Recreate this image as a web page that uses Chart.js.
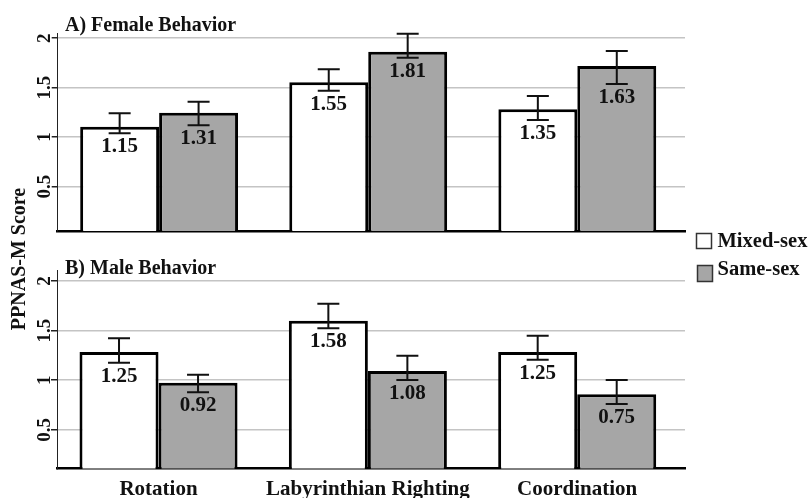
<!DOCTYPE html>
<html>
<head>
<meta charset="utf-8">
<script src="https://cdn.jsdelivr.net/npm/chart.js@4"></script>
<style>
  html,body{margin:0;padding:0;background:#fff;}
  #wrap{position:relative;width:811px;height:498px;}
  #wrap canvas{position:absolute;left:0;top:0;}
</style>
</head>
<body>
<div id="wrap">
  <canvas id="chartA" width="811" height="498" style="width:811px;height:498px"></canvas>
  <canvas id="chartB" width="811" height="498" style="width:811px;height:498px"></canvas>
</div>
<script>
// categorie e serie
const categories=['Rotation','Labyrinthian Righting','Coordination'];
const seriesNames=['Mixed-sex','Same-sex'];
const yTicks=[0.5,1,1.5,2];
const yTitle='PPNAS-M Score';

// A) Female Behavior  (bar heights as drawn, printed means, error range low/high)
const femaleMixed=[1.105,1.554,1.281];
const femaleSame=[1.247,1.864,1.719];
const femaleMixedLabels=['1.15','1.55','1.35'];
const femaleSameLabels=['1.31','1.81','1.63'];
const femaleMixedErr=[[1.038,1.241],[1.469,1.686],[1.173,1.416]];
const femaleSameErr=[[1.119,1.358],[1.803,2.046],[1.537,1.871]];

// B) Male Behavior
const maleMixed=[1.284,1.599,1.284];
const maleSame=[0.974,1.092,0.858];
const maleMixedLabels=['1.25','1.58','1.25'];
const maleSameLabels=['0.92','1.08','0.75'];
const maleMixedErr=[[1.176,1.422],[1.523,1.770],[1.206,1.448]];
const maleSameErr=[[0.878,1.055],[1.002,1.247],[0.760,1.002]];

const serif='"Liberation Serif","Times New Roman",serif';
const colMixed='#ffffff', colSame='#a6a6a6';

// error bars, value labels, rotated y tick labels, panel title
const extras={
  id:'extras',
  afterDatasetsDraw(chart,args,opts){
    const ctx=chart.ctx, y=chart.scales.y;
    ctx.save();
    chart.data.datasets.forEach((ds,i)=>{
      chart.getDatasetMeta(i).data.forEach((bar,j)=>{
        const yl=y.getPixelForValue(ds.err[j][0]);
        const yh=y.getPixelForValue(ds.err[j][1]);
        ctx.strokeStyle='#111';ctx.lineWidth=2;
        ctx.beginPath();
        ctx.moveTo(bar.x,yl);ctx.lineTo(bar.x,yh);
        ctx.moveTo(bar.x-11,yl);ctx.lineTo(bar.x+11,yl);
        ctx.moveTo(bar.x-11,yh);ctx.lineTo(bar.x+11,yh);
        ctx.stroke();
        ctx.fillStyle='#111';
        ctx.font='bold 21px '+serif;
        ctx.textAlign='center';ctx.textBaseline='alphabetic';
        ctx.fillText(ds.valueLabels[j],bar.x,yl+19);
      });
    });
    ctx.fillStyle='#111';
    ctx.font='bold 19px '+serif;
    yTicks.forEach(v=>{
      const py=y.getPixelForValue(v);
      ctx.save();
      ctx.translate(49.5,py);ctx.rotate(-Math.PI/2);
      ctx.textAlign='center';ctx.textBaseline='alphabetic';
      ctx.fillText(String(v),0,0);
      ctx.restore();
    });
    ctx.font='bold 20px '+serif;
    ctx.textAlign='left';ctx.textBaseline='alphabetic';
    ctx.fillText(opts.title,65,opts.titleY);
    ctx.restore();
  }
};

// legend + y title (only on the lower chart)
const sideText={
  id:'sideText',
  afterDraw(chart){
    const ctx=chart.ctx;
    ctx.save();
    ctx.fillStyle='#111';
    ctx.font='bold 20px '+serif;
    ctx.translate(25,259);ctx.rotate(-Math.PI/2);
    ctx.textAlign='center';ctx.textBaseline='alphabetic';
    ctx.fillText(yTitle,0,0);
    ctx.restore();

    ctx.save();
    ctx.lineWidth=1.5;ctx.strokeStyle='#333';
    ctx.fillStyle=colMixed;
    ctx.fillRect(696.5,233.5,15,15);ctx.strokeRect(696.5,233.5,15,15);
    ctx.fillStyle=colSame;
    ctx.fillRect(697.5,265.5,15,16);ctx.strokeRect(697.5,265.5,15,16);
    ctx.fillStyle='#111';
    ctx.font='bold 20.5px '+serif;
    ctx.textAlign='left';ctx.textBaseline='alphabetic';
    ctx.fillText(seriesNames[0],717.5,246.7);
    ctx.fillText(seriesNames[1],717.5,275);
    ctx.restore();
  }
};

function makeChart(id,mixed,same,mixedLbl,sameLbl,mixedErr,sameErr,o){
  return new Chart(document.getElementById(id),{
    type:'bar',
    data:{
      labels:categories,
      datasets:[
        {label:seriesNames[0],data:mixed,valueLabels:mixedLbl,err:mixedErr,
         backgroundColor:colMixed,borderColor:'#000',borderWidth:3,borderSkipped:false,
         categoryPercentage:0.755,barPercentage:1},
        {label:seriesNames[1],data:same,valueLabels:sameLbl,err:sameErr,
         backgroundColor:colSame,borderColor:'#000',borderWidth:3,borderSkipped:false,
         categoryPercentage:0.755,barPercentage:1}
      ]
    },
    options:{
      responsive:false,
      animation:false,
      layout:{padding:{top:o.top,right:126,left:0,bottom:0}},
      plugins:{legend:{display:false},tooltip:{enabled:false},
        extras:{title:o.title,titleY:o.titleY}},
      scales:{
        x:{
          grid:{display:false},
          border:{color:'#000',width:2.5},
          // groups sit a little left of even spacing in the original
          afterDataLimits:s=>{s.min=0.015;s.max=2;},
          afterBuildTicks:s=>{s.ticks=categories.map((c,i)=>({value:i}));},
          ticks:{display:o.showCats,color:'#111',padding:0,maxRotation:0,autoSkip:false,
            font:{family:serif,size:21,weight:'bold'}},
          afterFit:s=>{s.height=o.xh;}
        },
        y:{
          min:o.min,max:o.max,
          afterBuildTicks:s=>{s.ticks=yTicks.map(v=>({value:v}));},
          grid:{color:'#c4c4c4',lineWidth:1.5,tickColor:'#222',tickLength:6},
          border:{color:'#222',width:1},
          ticks:{display:false},
          afterFit:s=>{s.width=o.yw;}
        }
      }
    },
    plugins:o.plugins
  });
}

makeChart('chartA',femaleMixed,femaleSame,femaleMixedLabels,femaleSameLabels,femaleMixedErr,femaleSameErr,
  {top:33.3,xh:267,yw:57.7,min:0.05,max:2.05,showCats:false,title:'A) Female Behavior',titleY:30.7,plugins:[extras]});
makeChart('chartB',maleMixed,maleSame,maleMixedLabels,maleSameLabels,maleMixedErr,maleSameErr,
  {top:270,xh:29.5,yw:57,min:0.11,max:2.11,showCats:true,title:'B) Male Behavior',titleY:274.3,plugins:[extras,sideText]});
</script>
</body>
</html>
